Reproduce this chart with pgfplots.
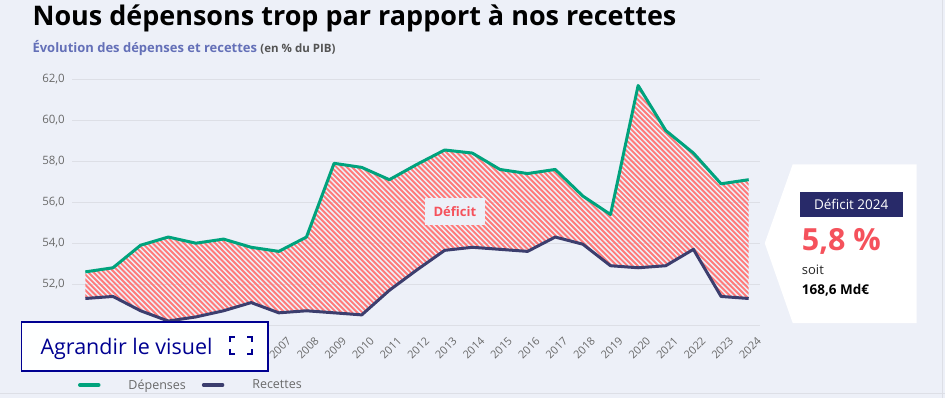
\documentclass[border=0pt]{standalone}
\usepackage{pgfplots}
\pgfplotsset{compat=1.18}
\usepgfplotslibrary{fillbetween}
\usepackage{fontspec}
\setmainfont{Open Sans}
\definecolor{bg}{RGB}{237,240,248}
\definecolor{gridc}{RGB}{221,223,230}
\definecolor{dep}{RGB}{0,163,125}
\definecolor{rec}{RGB}{60,62,110}
\definecolor{hatch}{RGB}{255,122,122}
\definecolor{redtxt}{RGB}{245,82,92}
\definecolor{subblue}{RGB}{100,112,184}
\definecolor{navybox}{RGB}{40,42,105}
\definecolor{btn}{RGB}{0,0,145}
\definecolor{ticktxt}{RGB}{105,105,105}
\pgfplotstableread{
year dep rec
2000 52.6 51.3
2001 52.8 51.4
2002 53.9 50.7
2003 54.3 50.2
2004 54.0 50.4
2005 54.2 50.7
2006 53.8 51.1
2007 53.6 50.6
2008 54.3 50.7
2009 57.9 50.6
2010 57.7 50.5
2011 57.1 51.7
2012 57.85 52.7
2013 58.55 53.65
2014 58.4 53.8
2015 57.6 53.7
2016 57.4 53.6
2017 57.6 54.3
2018 56.3 53.95
2019 55.4 52.9
2020 61.7 52.8
2021 59.5 52.9
2022 58.4 53.7
2023 56.9 51.4
2024 57.1 51.3
}\datatable
\begin{document}
\begin{tikzpicture}
\fill[bg] (0pt,0pt) rectangle (945pt,398pt);
\draw[gridc, line width=0.8pt] (0pt,4.5pt) -- (945pt,4.5pt);
\draw[gridc, line width=0.8pt] (942.5pt,0pt) -- (942.5pt,398pt);
\node[anchor=base west, inner sep=0pt, font=\fontsize{27}{27}\selectfont\bfseries] at (32pt,373pt) {Nous dépensons trop par rapport à nos recettes};
\node[anchor=base west, inner sep=0pt, font=\fontsize{13}{13}\selectfont\bfseries, text=subblue] at (32pt,346pt) {Évolution des dépenses et recettes {\color{ticktxt!80!black}\fontsize{11.5}{11.5}\selectfont(en \% du PIB)}};
\begin{axis}[
  at={(72pt,73pt)}, anchor=south west,
  scale only axis, width=688pt, height=266.5pt,
  xmin=1999.53, xmax=2024.4, ymin=50, ymax=63,
  axis x line*=bottom, axis y line*=left,
  x axis line style={draw=gridc, line width=1pt, -},
  y axis line style={draw=none},
  tick style={draw=none},
  ytick={52,54,...,62},
  ymajorgrids, grid style={gridc, line width=0.9pt},
  xtick={2007,2008,...,2024},
  xticklabel style={rotate=45, anchor=east, font=\fontsize{11}{11}\selectfont, text=ticktxt, /pgf/number format/1000 sep={}, /pgf/number format/assume math mode=true, yshift=-17pt, xshift=1pt},
  yticklabel style={font=\fontsize{11.5}{11.5}\selectfont, text=ticktxt, xshift=-4pt, /pgf/number format/.cd, fixed, fixed zerofill, precision=1, use comma, assume math mode=true},
  legend style={at={(axis description cs:0.008,-0.225)}, anchor=west, draw=none, fill=none, inner sep=0pt, legend columns=2, font=\fontsize{12.5}{12.5}\selectfont, text=ticktxt, /tikz/every odd column/.append style={column sep=26pt}, /tikz/every even column/.append style={column sep=14pt}},
  legend image code/.code={\draw[#1, line width=3.5pt, line cap=round] (0pt,0pt) -- (19pt,0pt);},
  clip=false,
]
\addplot[draw=none, forget plot, name path=D] table[x=year,y=dep] {\datatable};
\addplot[draw=none, forget plot, name path=R] table[x=year,y=rec] {\datatable};
\begin{scope}
\clip[intersection segments={of=D and R, sequence={L* -- R*[reverse]}}];
\pgfplotsinvokeforeach{-60,...,135}{
  \draw[hatch, line width=1.9pt] ([xshift=#1*5.2pt]rel axis cs:0,1) -- ([xshift=#1*5.2pt+266.5pt]rel axis cs:0,0);
}
\end{scope}
\addplot[dep, line width=3pt, line join=round] table[x=year,y=dep] {\datatable};
\addlegendentry{Dépenses}
\addplot[rec, line width=3pt, line join=round] table[x=year,y=rec] {\datatable};
\addlegendentry{Recettes}
\node[fill=bg, text=redtxt, font=\fontsize{13}{13}\selectfont\bfseries, inner xsep=9pt, minimum height=27pt] at (axis cs:2013.37,55.56) {Déficit};
\end{axis}
\begin{scope}[x=1pt,y=1pt]
\fill[white] (765,155) -- (793,234) -- (917,234) -- (917,75) -- (793,75) -- cycle;
\fill[navybox] (800,181) rectangle (903,206);
\node[text=white, font=\fontsize{13.5}{13.5}\selectfont] at (851.5,193.5) {Déficit 2024};
\node[anchor=base west, inner sep=0pt, text=redtxt, font=\fontsize{30.5}{30.5}\selectfont\bfseries] at (802,148) {5,8 \%};
\node[anchor=base west, inner sep=0pt, text=black!85, font=\fontsize{13}{13}\selectfont] at (802,124) {soit};
\node[anchor=base west, inner sep=0pt, text=black, font=\fontsize{13.5}{13.5}\selectfont\bfseries] at (802,104) {168,6 Md€};
\filldraw[fill=white!97!bg, draw=btn, line width=1.5pt] (21,27) rectangle (268,76);
\node[anchor=base west, inner sep=0pt, text=btn, font=\fontsize{21.5}{21.5}\selectfont] at (40,44) {Agrandir le visuel};
\draw[btn, line width=1.8pt] (230,56) -- (230,61) -- (235,61);
\draw[btn, line width=1.8pt] (247,61) -- (252,61) -- (252,56);
\draw[btn, line width=1.8pt] (230,49) -- (230,44) -- (235,44);
\draw[btn, line width=1.8pt] (247,44) -- (252,44) -- (252,49);
\end{scope}
\end{tikzpicture}
\end{document}
